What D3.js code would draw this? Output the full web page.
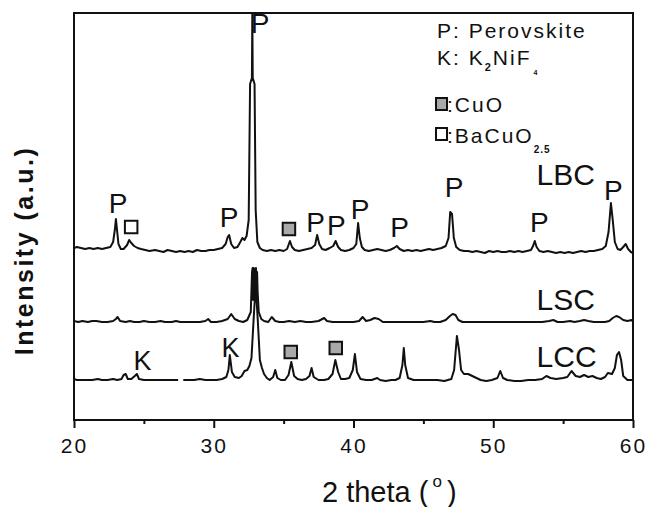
<!DOCTYPE html>
<html>
<head>
<meta charset="utf-8">
<script src="https://cdn.jsdelivr.net/npm/d3@7"></script>
<style>
  html, body { margin: 0; padding: 0; background: #fff; }
  svg { display: block; font-family: "Liberation Sans", Arial, Helvetica, sans-serif; }
</style>
</head>
<body>
<svg id="chart" width="646" height="507"></svg>
<script>
// XRD patterns: [2θ (deg), intensity (a.u.) above each pattern's own baseline]
const lbc = [
  [20.0,2],[20.2,3],[20.5,2],[20.8,1],[21.1,2],[21.4,1],[21.7,2],[22.0,1],[22.3,2],[22.6,3],
  [22.8,8],[22.92,20],[23.0,31],[23.08,20],[23.18,6],[23.35,1],[23.55,1],[23.8,5],[23.95,10],
  [24.1,7],[24.3,4],[24.55,2],[24.8,1],[25.1,0],[25.4,-1],[25.8,0],[26.1,-1],[26.4,-2],[26.7,0],
  [27.0,-1],[27.3,-2],[27.6,-1],[27.9,-2],[28.2,-1],[28.5,-2],[28.8,0],[29.1,-1],[29.4,-1],
  [29.7,0],[30.0,0],[30.3,1],[30.6,2],[30.85,6],[31.0,13],[31.1,15],[31.25,6],[31.45,2],
  [31.7,3],[31.9,8],[32.05,12],[32.2,10],[32.35,14],[32.5,30],[32.6,166],[32.73,172],
  [32.76,237],[32.79,172],[32.92,166],[33.0,40],[33.12,8],[33.3,2],[33.5,0],[33.8,-1],
  [34.1,0],[34.4,-1],[34.7,0],
  [35.0,-1],[35.25,1],[35.45,9],[35.6,3],[35.8,0],[36.1,-1],[36.4,0],[36.7,1],[37.0,2],
  [37.25,5],[37.4,15],[37.55,6],[37.75,1],[38.0,0],[38.3,2],[38.55,4],[38.72,9],[38.9,3],
  [39.1,0],[39.4,-1],[39.7,0],[40.0,2],[40.2,6],[40.33,27],[40.45,12],[40.6,3],[40.8,0],
  [41.1,-1],[41.4,0],[41.7,1],[42.0,0],[42.3,-1],[42.6,0],[42.9,2],[43.1,4],[43.3,1],
  [43.6,-1],[43.9,0],[44.2,-1],[44.5,0],[44.8,-1],[45.1,0],[45.4,1],[45.7,0],[46.0,1],
  [46.3,2],[46.6,4],[46.8,12],[46.92,38],[47.05,36],[47.18,12],[47.35,3],[47.6,0],[47.9,-1],
  [48.2,-1],[48.5,-2],[48.8,-1],[49.1,-2],[49.4,-3],[49.7,-1],[50.0,-2],[50.3,-1],[50.6,-2],
  [50.9,-2],[51.2,-1],[51.5,-2],[51.8,-1],[52.1,-2],[52.4,-1],[52.7,0],[52.85,4],[52.97,9],
  [53.1,3],[53.3,-1],[53.6,-2],[53.9,-1],[54.2,-2],[54.5,-3],[54.8,-2],[55.1,-3],[55.4,-2],
  [55.7,-3],[56.0,-2],[56.3,-1],[56.6,-2],[56.9,-1],[57.2,-1],[57.5,0],[57.8,1],[58.05,4],
  [58.25,18],[58.42,47],[58.55,30],[58.7,8],[58.9,1],[59.1,0],[59.3,3],[59.48,6],[59.65,1],
  [59.85,-2],[60.0,-3]
];

const lsc = [
  [20.0,1],[20.3,0],[20.6,1],[21.0,0],[21.3,1],[21.6,1],[22.0,0],[22.4,0],[22.8,1],[23.0,3],
  [23.12,5],[23.3,1],[23.7,0],[24.0,1],[24.3,0],[24.7,0],[25.0,1],[25.4,0],[25.8,0],[26.2,1],
  [26.5,0],[27.0,0],[27.3,1],[27.6,0],[28.0,0],[28.5,0],[29.0,0],[29.4,1],[29.6,3],[29.8,0],
  [30.2,0],[30.6,1],[31.0,3],[31.25,8],[31.5,3],[31.8,1],[32.1,0],[32.4,2],[32.65,10],
  [32.74,50],[32.78,54],[32.82,22],[32.86,54],[32.9,26],[32.94,53],[32.98,28],[33.02,54],
  [33.06,25],[33.1,50],[33.14,30],[33.22,10],[33.4,3],
  [33.6,1],[33.9,0],[34.15,5],[34.4,1],[34.7,0],[35.0,0],[35.4,1],[35.8,0],[36.2,1],[36.6,0],
  [37.0,0],[37.5,1],[37.9,4],[38.1,1],[38.5,0],[39.0,0],[39.5,0],[40.0,0],[40.4,1],[40.65,5],
  [40.9,1],[41.2,2],[41.5,4],[41.8,3],[42.1,0],[42.5,0],[43.0,0],[43.5,0],[44.0,0],[44.5,0],
  [45.0,0],[45.5,1],[45.8,0],[46.2,0],[46.6,2],[46.9,6],[47.1,8],[47.3,7],[47.5,2],[47.8,0],
  [48.2,0],[48.6,0],[49.0,0],[49.5,0],[50.0,0],[50.5,0],[51.0,0],[51.5,0],[52.0,0],[52.5,0],
  [53.0,0],[53.5,0],[54.0,1],[54.3,2],[54.6,0],[55.0,0],[55.5,1],[55.8,0],[56.2,1],[56.5,2],
  [56.8,1],[57.2,0],[57.6,0],[58.0,0],[58.3,1],[58.55,4],[58.8,6],[59.0,5],[59.3,2],[59.6,1],
  [59.9,2],[60.0,0]
];

const lcc = [
  [20.0,1],[20.2,0],[20.5,0],[20.9,0],[21.3,0],[21.7,1],[22.0,0],[22.4,0],[22.8,1],[23.1,0],
  [23.4,1],[23.55,5],[23.7,6],[23.85,1],[24.1,1],[24.35,4],[24.5,6],[24.65,1],[25.0,0],
  [25.5,0],[26.0,0],[26.5,0],[27.0,0],[27.45,0],[27.6,null],[27.82,0],[28.2,0],[28.6,0],
  [29.0,1],[29.4,0],[29.8,0],[30.2,0],[30.6,1],[30.9,3],[31.05,10],[31.15,25],[31.3,8],
  [31.5,3],[31.8,2],[32.0,4],[32.2,9],[32.4,10],[32.55,14],[32.7,22],[32.85,60],[33.0,95],
  [33.15,60],[33.3,20],[33.45,12],[33.6,6],[33.8,2],[34.0,0],[34.25,3],[34.4,10],[34.55,2],
  [34.8,0],[35.1,0],[35.35,5],[35.55,18],[35.75,4],[36.0,1],[36.3,0],[36.6,1],[36.85,4],
  [37.0,12],[37.15,3],[37.5,0],[37.9,0],[38.2,1],[38.5,6],[38.7,20],[38.9,8],[39.1,1],
  [39.4,1],[39.7,2],[39.95,10],[40.1,26],[40.25,8],[40.5,1],[40.9,0],[41.3,0],[41.7,2],
  [41.9,0],[42.3,-1],[42.7,0],[43.0,0],[43.3,2],[43.5,15],[43.6,32],[43.7,15],[43.9,2],
  [44.3,0],[44.7,0],[45.0,0],[45.5,0],[46.0,0],[46.5,-1],[47.0,1],[47.2,10],[47.4,44],
  [47.55,30],[47.7,10],[47.9,6],[48.2,6],[48.5,4],[48.8,2],[49.1,0],[49.5,-1],[49.9,0],
  [50.3,2],[50.5,9],[50.7,2],[51.0,0],[51.5,-1],[52.0,-1],[52.5,0],[53.0,0],[53.5,1],
  [53.8,4],[54.1,2],[54.5,1],[55.0,2],[55.3,3],[55.6,9],[55.9,4],[56.2,3],[56.5,5],[56.8,3],
  [57.1,4],[57.4,2],[57.7,1],[58.0,3],[58.2,7],[58.5,6],[58.7,12],[58.85,25],[59.0,28],
  [59.15,20],[59.3,4],[59.6,0],[60.0,0]
];

// stacking: vertical offset (a.u.) applied to each pattern
const seriesNames   = ["LBC", "LSC", "LCC"];
const seriesData    = [lbc, lsc, lcc];
const seriesOffsets = [170, 98, 40];
// label anchor for each pattern name: [2θ, level a.u.]
const seriesLabelPos = [[53.1, 235], [53.1, 110], [53.1, 53]];

const xTicks      = [20, 30, 40, 50, 60];
const xMinorTicks = [25, 35, 45, 55];

// phase assignments: [2θ, label baseline level (a.u.), letter]
const letterMarks = [
  [23.15, 207, "P"], [31.1, 193, "P"], [33.31, 387, "P"], [37.28, 188, "P"],
  [38.78, 185, "P"], [40.47, 201, "P"], [43.3, 183, "P"], [47.2, 223, "P"],
  [53.3, 188, "P"], [58.6, 220, "P"],
  [24.9, 50, "K"], [31.2, 63, "K"]
];
// square markers: [2θ, centre level (a.u.), phase] — "CuO" filled, "BaCuO" open
const squareMarks = [
  [24.09, 193, "BaCuO"], [35.38, 191, "CuO"], [35.51, 68, "CuO"], [38.73, 72, "CuO"]
];

const svg = d3.select("#chart");
const margin = { left: 74, top: 13, right: 13, bottom: 87 };
const W = 646, H = 507;
const plotW = W - margin.left - margin.right;   // 559
const plotH = H - margin.top - margin.bottom;   // 407

const x = d3.scaleLinear().domain([20, 60]).range([margin.left, margin.left + plotW]);
const y = d3.scaleLinear().domain([0, 407]).range([margin.top + plotH, margin.top]);

svg.append("defs").append("clipPath").attr("id", "plotClip")
  .append("rect")
  .attr("x", margin.left).attr("y", margin.top)
  .attr("width", plotW).attr("height", plotH);

// patterns
const plot = svg.append("g").attr("clip-path", "url(#plotClip)");
seriesData.forEach((data, i) => {
  const off = seriesOffsets[i];
  const line = d3.line()
    .defined(d => d[1] !== null)
    .x(d => x(d[0]))
    .y(d => y(d[1] + off));
  plot.append("path")
    .datum(data)
    .attr("fill", "none")
    .attr("stroke", "#111")
    .attr("stroke-width", 2)
    .attr("stroke-linejoin", "round")
    .attr("d", line);
});

// frame
svg.append("rect")
  .attr("x", margin.left).attr("y", margin.top)
  .attr("width", plotW).attr("height", plotH)
  .attr("fill", "none").attr("stroke", "#111").attr("stroke-width", 2);

// bottom axis: major + minor ticks pointing outward
const axisG = svg.append("g").attr("transform", `translate(0,${margin.top + plotH})`);
axisG.call(d3.axisBottom(x).tickValues(xTicks).tickSize(8).tickFormat(d3.format("d")));
axisG.select(".domain").remove();
axisG.selectAll(".tick line").attr("stroke", "#111").attr("stroke-width", 2);
axisG.selectAll(".tick text")
  .attr("y", 33).attr("dy", 0)
  .attr("fill", "#111")
  .style("font-family", '"Liberation Sans", Arial, sans-serif')
  .style("font-size", "21px")
  .style("letter-spacing", "2px");

const minorG = svg.append("g").attr("transform", `translate(0,${margin.top + plotH})`);
minorG.call(d3.axisBottom(x).tickValues(xMinorTicks).tickSize(4).tickFormat(""));
minorG.select(".domain").remove();
minorG.selectAll(".tick line").attr("stroke", "#111").attr("stroke-width", 2);

// axis titles
const xt = svg.append("text")
  .attr("x", 322).attr("y", 502)
  .attr("fill", "#111")
  .style("font-size", "29px");
xt.append("tspan").text("2 theta (");
xt.append("tspan").attr("dx", 4).attr("dy", -15).style("font-size", "17px").text("o");
xt.append("tspan").attr("dx", 5).attr("dy", 15).text(")");

svg.append("text")
  .attr("transform", `translate(33,${margin.top + plotH / 2 + 34}) rotate(-90)`)
  .attr("text-anchor", "middle")
  .attr("fill", "#111")
  .style("font-size", "25px")
  .style("font-weight", "bold")
  .style("letter-spacing", "2.5px")
  .text("Intensity (a.u.)");

// phase letters
svg.append("g").selectAll("text")
  .data(letterMarks)
  .join("text")
  .attr("x", d => x(d[0]))
  .attr("y", d => y(d[1]))
  .attr("text-anchor", "middle")
  .attr("fill", "#111")
  .style("font-size", d => d[2] === "K" ? "27px" : "28px")
  .text(d => d[2]);

// square markers
const sq = 12.5;
svg.append("g").selectAll("rect")
  .data(squareMarks)
  .join("rect")
  .attr("x", d => x(d[0]) - sq / 2)
  .attr("y", d => y(d[1]) - sq / 2)
  .attr("width", sq).attr("height", sq)
  .attr("fill", d => d[2] === "CuO" ? "#a9a9a9" : "#fff")
  .attr("stroke", "#111")
  .attr("stroke-width", 2);

// pattern names
svg.append("g").selectAll("text")
  .data(seriesNames)
  .join("text")
  .attr("x", (d, i) => x(seriesLabelPos[i][0]))
  .attr("y", (d, i) => y(seriesLabelPos[i][1]))
  .attr("fill", "#111")
  .style("font-size", "30px")
  .text(d => d);

// legend
const leg = svg.append("g")
  .attr("fill", "#111")
  .style("font-size", "21px")
  .style("letter-spacing", "2px");

leg.append("text").attr("x", 437).attr("y", 38).text("P: Perovskite");

const kt = leg.append("text").attr("x", 437).attr("y", 65);
kt.append("tspan").text("K: K");
kt.append("tspan").attr("dy", 6).style("font-size", "11px").style("font-weight", "bold").text("2");
kt.append("tspan").attr("dy", -6).text("NiF");
kt.append("tspan").attr("dx", 2).attr("dy", 10).style("font-size", "7px").style("font-weight", "bold").text("4");

leg.append("rect").attr("x", 436).attr("y", 98).attr("width", 11).attr("height", 12)
  .attr("fill", "#a9a9a9").attr("stroke", "#111").attr("stroke-width", 2);
leg.append("text").attr("x", 447).attr("y", 112).text(":CuO");

leg.append("rect").attr("x", 436).attr("y", 128).attr("width", 11).attr("height", 12)
  .attr("fill", "#fff").attr("stroke", "#111").attr("stroke-width", 2);
const bt = leg.append("text").attr("x", 447).attr("y", 143);
bt.append("tspan").text(":BaCuO");
bt.append("tspan").attr("dy", 10).style("font-size", "10px").style("font-weight", "bold")
  .style("letter-spacing", "1px").text("2.5");
</script>
</body>
</html>
